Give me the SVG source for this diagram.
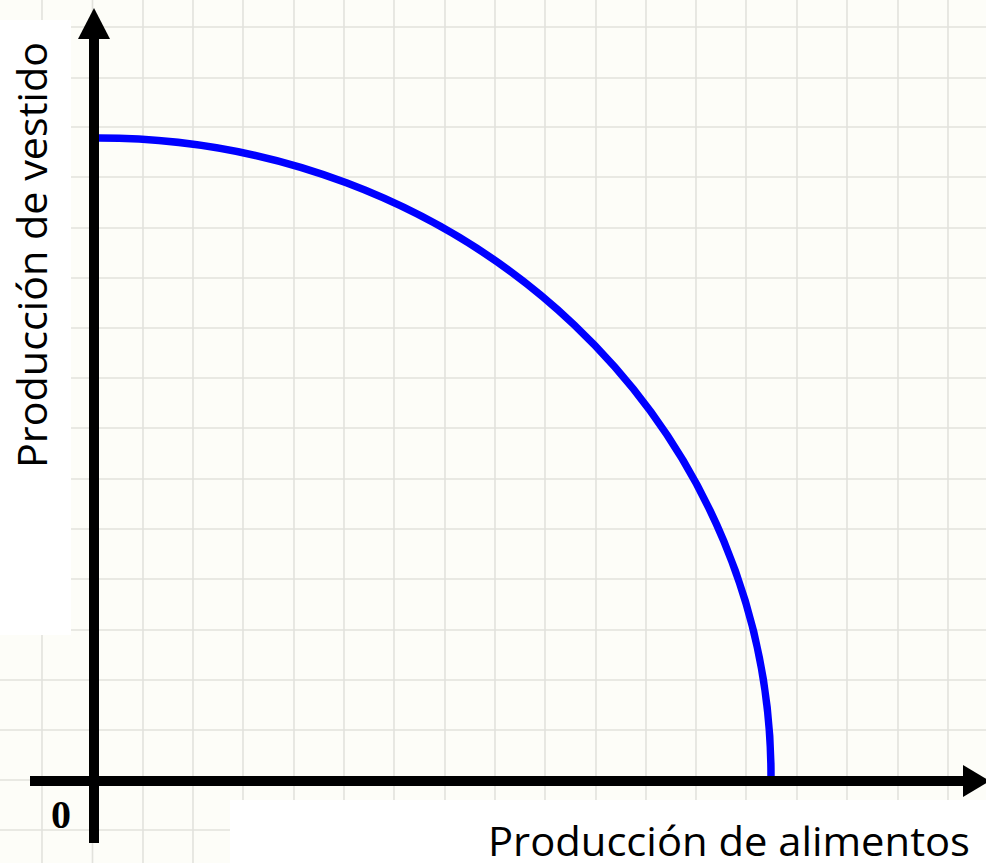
<svg xmlns="http://www.w3.org/2000/svg" width="986" height="863" viewBox="0 0 986 863">
  <defs>
    <style>
      .grid line { stroke: #e2e2dc; stroke-width: 1.6; }
      .axis { stroke: #000; stroke-width: 10; fill: none; }
      .head { fill: #000; }
      .curve { stroke: #0000ff; stroke-width: 7.5; fill: none; }
      .label { font-family: "Open Sans", "Liberation Sans", sans-serif; font-size: 40px; fill: #000; }
      .zero { font-family: "Liberation Serif", serif; font-weight: bold; font-size: 40px; fill: #000; }
    </style>
  </defs>
  <rect id="background" x="0" y="0" width="986" height="863" fill="#fdfdf8"/>
  <g id="grid" class="grid">
    <line x1="42" y1="0" x2="42" y2="863"/>
    <line x1="92.5" y1="0" x2="92.5" y2="863"/>
    <line x1="143" y1="0" x2="143" y2="863"/>
    <line x1="193" y1="0" x2="193" y2="863"/>
    <line x1="243" y1="0" x2="243" y2="863"/>
    <line x1="294" y1="0" x2="294" y2="863"/>
    <line x1="344" y1="0" x2="344" y2="863"/>
    <line x1="394" y1="0" x2="394" y2="863"/>
    <line x1="445" y1="0" x2="445" y2="863"/>
    <line x1="495" y1="0" x2="495" y2="863"/>
    <line x1="545" y1="0" x2="545" y2="863"/>
    <line x1="596" y1="0" x2="596" y2="863"/>
    <line x1="646" y1="0" x2="646" y2="863"/>
    <line x1="696" y1="0" x2="696" y2="863"/>
    <line x1="746" y1="0" x2="746" y2="863"/>
    <line x1="797" y1="0" x2="797" y2="863"/>
    <line x1="847" y1="0" x2="847" y2="863"/>
    <line x1="898" y1="0" x2="898" y2="863"/>
    <line x1="948" y1="0" x2="948" y2="863"/>
    <line x1="0" y1="27" x2="986" y2="27"/>
    <line x1="0" y1="78" x2="986" y2="78"/>
    <line x1="0" y1="127" x2="986" y2="127"/>
    <line x1="0" y1="177" x2="986" y2="177"/>
    <line x1="0" y1="228" x2="986" y2="228"/>
    <line x1="0" y1="278" x2="986" y2="278"/>
    <line x1="0" y1="328" x2="986" y2="328"/>
    <line x1="0" y1="378" x2="986" y2="378"/>
    <line x1="0" y1="428" x2="986" y2="428"/>
    <line x1="0" y1="479" x2="986" y2="479"/>
    <line x1="0" y1="529" x2="986" y2="529"/>
    <line x1="0" y1="579" x2="986" y2="579"/>
    <line x1="0" y1="630" x2="986" y2="630"/>
    <line x1="0" y1="680" x2="986" y2="680"/>
    <line x1="0" y1="730" x2="986" y2="730"/>
    <line x1="0" y1="780" x2="986" y2="780"/>
    <line x1="0" y1="830" x2="986" y2="830"/>
  </g>
  <g id="label-backgrounds" fill="#ffffff">
    <rect x="0" y="20" width="71" height="615"/>
    <rect x="230" y="800" width="756" height="63"/>
  </g>
  <g id="ppf-curve">
    <path class="curve" d="M 99 138 A 672 638 0 0 1 771 776"/>
  </g>
  <g id="connectors">
    <g id="y-axis">
      <line class="axis" x1="94" y1="843" x2="94" y2="36"/>
      <polygon class="head" points="94,8 78,39 110,39"/>
    </g>
    <g id="x-axis">
      <line class="axis" x1="30" y1="781" x2="966" y2="781"/>
      <polygon class="head" points="963,765 990,781 963,797"/>
    </g>
  </g>
  <g id="y-label">
    <text class="label" transform="translate(47,468) rotate(-90)" textLength="426" lengthAdjust="spacingAndGlyphs">Producción de vestido</text>
  </g>
  <g id="x-label">
    <text class="label" x="488" y="856" textLength="482" lengthAdjust="spacingAndGlyphs">Producción de alimentos</text>
  </g>
  <g id="origin-label">
    <text class="zero" x="51" y="828">0</text>
  </g>
</svg>
